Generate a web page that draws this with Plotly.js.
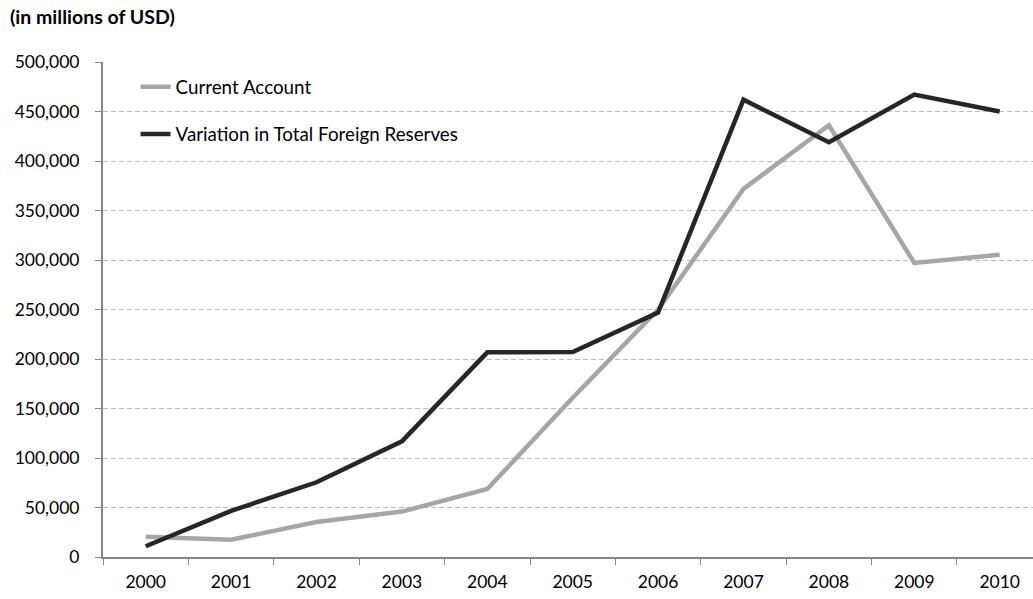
<!DOCTYPE html>
<html>
<head>
<meta charset="utf-8">
<script src="https://cdn.plot.ly/plotly-3.0.1.min.js"></script>
<style>
html,body{margin:0;padding:0;background:#fff;overflow:hidden;}
#chart{width:1033px;height:599px;}
</style>
</head>
<body>
<div id="chart"></div>
<script>
const years = ['2000','2001','2002','2003','2004','2005','2006','2007','2008','2009','2010'];
const currentAccount = [20500, 17400, 35400, 45900, 68700, 160800, 250000, 371800, 436100, 297100, 305400];
const reserveVariation = [10900, 46600, 75500, 116800, 206700, 207000, 247000, 461900, 418900, 467100, 450000];
const yTicks = [0, 50000, 100000, 150000, 200000, 250000, 300000, 350000, 400000, 450000, 500000];
const yTickLabels = ['0','50,000','100,000','150,000','200,000','250,000','300,000','350,000','400,000','450,000','500,000'];

const FONT = 'Lato, "Open Sans", sans-serif';

const traces = [
  {x: years, y: currentAccount, name: 'Current Account', type: 'scatter', mode: 'lines',
   line: {color: '#a6a6a6', width: 4.5}, legendgroup: 'a'},
  {x: years, y: reserveVariation, name: 'Variation in Total Foreign Reserves', type: 'scatter', mode: 'lines',
   line: {color: '#262626', width: 4.5}, legendgroup: 'b'}
];

const layout = {
  width: 1033, height: 599,
  margin: {l: 103, r: 0, t: 62, b: 42},
  paper_bgcolor: '#fff', plot_bgcolor: '#fff',
  font: {family: FONT, size: 17, color: '#000'},
  showlegend: true,
  legend: {x: 0.035, y: 0.988, xanchor: 'left', yanchor: 'top', bgcolor: 'rgba(0,0,0,0)',
           font: {family: FONT, size: 18.8, color: '#000'}, traceorder: 'grouped', tracegroupgap: 20,
           itemwidth: 30},
  annotations: [{text: '<b>(in millions of USD)</b>', xref: 'paper', yref: 'paper', x: 0, y: 1,
                 xanchor: 'left', yanchor: 'bottom', xshift: -95, yshift: 32, showarrow: false,
                 font: {family: FONT, size: 19.5, color: '#000'}}],
  xaxis: {type: 'category', categoryarray: years, range: [-0.5, 10.39],
          showline: true, linecolor: '#868686', linewidth: 2,
          ticks: 'outside', tickson: 'boundaries', ticklen: 6, tickcolor: '#868686', tickwidth: 1,
          showgrid: false, zeroline: false, ticklabelstandoff: 8,
          tickfont: {family: FONT, size: 17.5, color: '#000'}},
  yaxis: {range: [0, 500000], tickvals: yTicks, ticktext: yTickLabels,
          showline: true, linecolor: '#868686', linewidth: 2,
          ticks: 'outside', ticklen: 6, tickcolor: '#868686', tickwidth: 1,
          showgrid: true, gridcolor: '#bcbcbc', griddash: '5px,3px', gridwidth: 1,
          zeroline: false, ticklabelstandoff: 12,
          tickfont: {family: FONT, size: 17.5, color: '#000'}}
};

Plotly.newPlot('chart', traces, layout, {displayModeBar: false, staticPlot: true});
</script>
</body>
</html>
